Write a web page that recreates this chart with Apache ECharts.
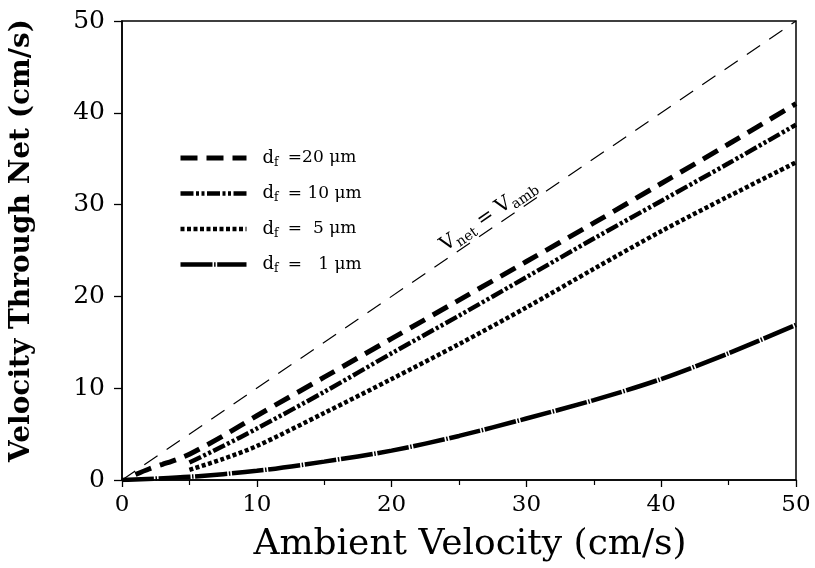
<!DOCTYPE html>
<html>
<head>
<meta charset="utf-8">
<script src="https://cdn.jsdelivr.net/npm/echarts@6/dist/echarts.min.js"></script>
<style>html,body{margin:0;padding:0;background:#fff}#c{width:815px;height:568px}</style>
</head>
<body>
<div id="c"></div>
<script>
// ---- data ----
const xTicks = [0, 10, 20, 30, 40, 50];
const yTicks = [0, 10, 20, 30, 40, 50];
const xRef = [0, 50];
const yRef = [0, 50];
const x20 = [1, 2, 3, 4, 5, 7.5, 10, 15, 20, 25, 30, 35, 40, 45, 50];
const y20 = [0.6, 1.2, 1.7, 2.2, 2.8, 4.8, 7.0, 11.2, 15.4, 19.6, 23.8, 28.0, 32.3, 36.6, 41.0];
const x10 = [5, 7.5, 10, 15, 20, 25, 30, 35, 40, 45, 50];
const y10 = [1.9, 3.7, 5.6, 9.6, 13.8, 17.9, 22.1, 26.3, 30.4, 34.5, 38.7];
const x5 = [5, 7.5, 10, 15, 20, 25, 30, 35, 40, 45, 50];
const y5 = [1.1, 2.3, 3.7, 7.3, 11.0, 14.8, 18.8, 23.0, 27.1, 30.9, 34.6];
const x1 = [0, 5, 10, 15, 20, 25, 30, 35, 40, 45, 50];
const y1 = [0, 0.35, 1.0, 2.0, 3.2, 4.8, 6.7, 8.7, 11.0, 13.8, 16.9];
const legendNames = ['20', '10', '5', '1'];
const legendLabels = {'20': ' =20 \u03bcm', '10': ' = 10 \u03bcm', '5': ' =  5 \u03bcm', '1': ' =   1 \u03bcm'};

const pairs = (xs, ys) => xs.map((x, i) => [x, ys[i]]);
const SERIF = '"DejaVu Serif", "Liberation Serif", serif';

const styles = {
  ref: {color: '#000', width: 1.2, type: [16, 11]},
  '20': {color: '#000', width: 5, type: [17, 9]},
  '10': {color: '#000', width: 4.5, type: [13, 2.5, 3, 2.5, 3, 2.5]},
  '5': {color: '#000', width: 4.5, type: [4, 2.5]},
  '1': {color: '#000', width: 4.5, type: [32, 1.6, 1.5, 1.6]}
};

const chart = echarts.init(document.getElementById('c'), null, {renderer: 'canvas'});
const option = {
  animation: false,
  backgroundColor: '#fff',
  grid: {left: 122, right: 19, top: 21, bottom: 88, show: true, borderColor: '#000', borderWidth: 1.5, backgroundColor: 'transparent'},
  xAxis: {
    type: 'value', min: 0, max: 50, interval: 10,
    axisLine: {lineStyle: {color: '#000', width: 1.5}},
    axisTick: {show: true, length: 7, lineStyle: {color: '#000', width: 1.3}},
    minorTick: {show: true, splitNumber: 2, length: 5, lineStyle: {color: '#000', width: 1.2}},
    splitLine: {show: false},
    axisLabel: {color: '#000', fontFamily: SERIF, fontSize: 23, margin: 14},
    name: 'Ambient Velocity (cm/s)', nameLocation: 'middle', nameGap: 47,
    nameTextStyle: {color: '#000', fontFamily: SERIF, fontSize: 36, padding: [0, 0, 0, 22]}
  },
  yAxis: {
    type: 'value', min: 0, max: 50, interval: 10,
    axisLine: {lineStyle: {color: '#000', width: 1.5}},
    axisTick: {show: true, length: 8, lineStyle: {color: '#000', width: 1.3}},
    splitLine: {show: false},
    axisLabel: {color: '#000', fontFamily: SERIF, fontSize: 25, margin: 17},
    name: 'Velocity Through Net (cm/s)', nameLocation: 'middle', nameGap: 86,
    nameTextStyle: {color: '#000', fontFamily: SERIF, fontSize: 28, fontWeight: 'bold', padding: [0, 0, 0, 20]}
  },
  legend: {
    orient: 'vertical', left: 173, top: 144, itemWidth: 66, itemHeight: 14, itemGap: 16,
    itemStyle: {opacity: 0},
    data: legendNames.map(n => ({name: n, lineStyle: styles[n], itemStyle: {opacity: 0}})),
    formatter: n => '{d|d}{s|f}{t|' + legendLabels[n] + '}',
    textStyle: {
      color: '#000', fontFamily: SERIF, fontSize: 17,
      rich: {
        d: {fontFamily: SERIF, fontSize: 18, color: '#000', padding: [0, 0, 0, 11]},
        s: {fontFamily: SERIF, fontSize: 12, color: '#000', padding: [9, 0, 0, 0]},
        t: {fontFamily: SERIF, fontSize: 17, color: '#000', padding: [0, 0, 0, 4]}
      }
    }
  },
  series: [
    {name: 'ref', type: 'line', data: pairs(xRef, yRef), symbol: 'none', silent: true, lineStyle: styles.ref},
    {name: '20', type: 'line', data: pairs(x20, y20), symbol: 'none', smooth: 0.3, lineStyle: styles['20']},
    {name: '10', type: 'line', data: pairs(x10, y10), symbol: 'none', smooth: 0.3, lineStyle: styles['10']},
    {name: '5', type: 'line', data: pairs(x5, y5), symbol: 'none', smooth: 0.3, lineStyle: styles['5']},
    {name: '1', type: 'line', data: pairs(x1, y1), symbol: 'none', smooth: 0.3, lineStyle: styles['1']}
  ]
};
chart.setOption(option);

// label on the V_net = V_amb reference line, placed via data coordinates
const p = chart.convertToPixel({gridIndex: 0}, [27.2, 28.8]);
const p0 = chart.convertToPixel({gridIndex: 0}, [0, 0]);
const p1 = chart.convertToPixel({gridIndex: 0}, [50, 50]);
const ang = Math.atan2(p0[1] - p1[1], p1[0] - p0[0]);
chart.setOption({
  graphic: [{
    type: 'text', x: p[0], y: p[1], rotation: ang, silent: true,
    style: {
      text: '{v|V}{s|net}{v| = V}{s|amb}',
      align: 'center', verticalAlign: 'middle',
      rich: {
        v: {fontFamily: SERIF, fontSize: 20, fill: '#000'},
        s: {fontFamily: SERIF, fontSize: 14, fill: '#000', padding: [12, 0, 0, 0]}
      }
    }
  }]
});
</script>
</body>
</html>
